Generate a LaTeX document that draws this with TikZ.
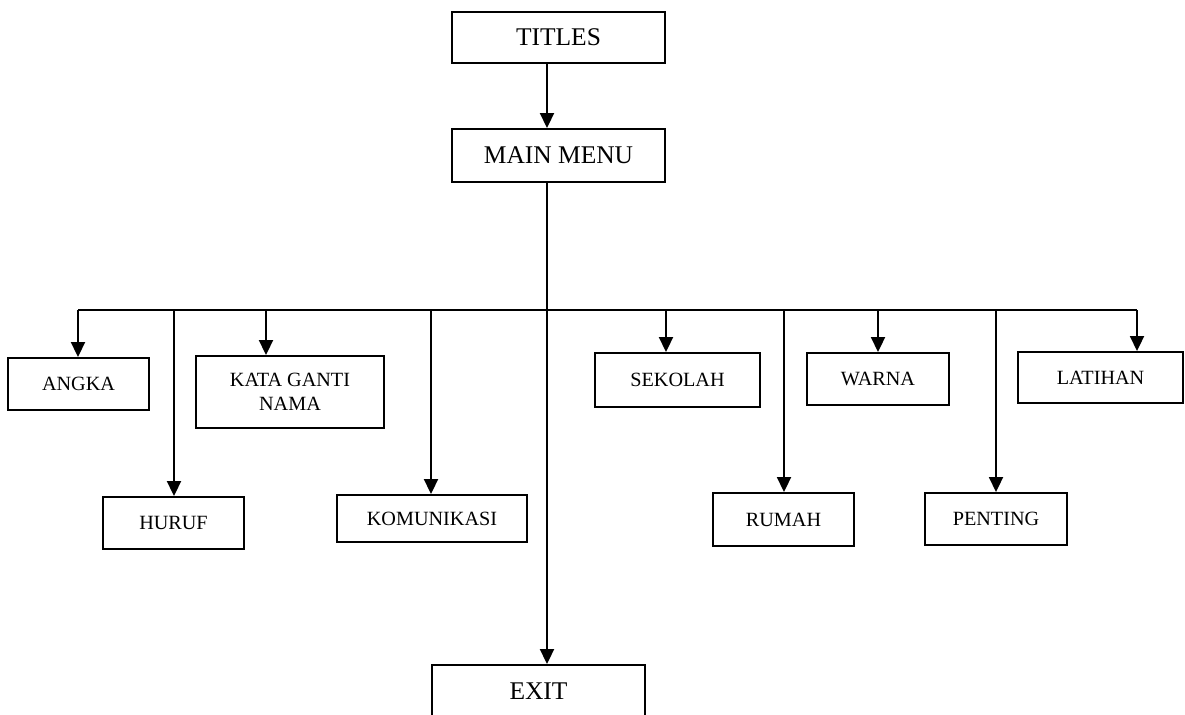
\documentclass[tikz,border=0pt]{standalone}
\usepackage{fontspec}
\setmainfont{Liberation Serif}
\usetikzlibrary{arrows.meta}
\begin{document}
\begin{tikzpicture}[x=0.02cm,y=-0.02cm,
  box/.style={draw,line width=1.1pt,inner sep=0pt,align=center},
  bigbox/.style={box,font=\fontsize{14.5}{17}\selectfont},
  smallbox/.style={box,font=\fontsize{11.5}{14}\selectfont},
  conn/.style={line width=1.1pt},
  arr/.style={conn,-{Triangle[length=0.3cm,width=0.28cm]}}]
\useasboundingbox (0,0) rectangle (1185,714);
% nodes
\node[bigbox,minimum width=4.26cm,minimum height=1.02cm] (titles) at (558.5,37.5) {TITLES};
\node[bigbox,minimum width=4.26cm,minimum height=1.06cm] (main) at (558.5,155.5) {MAIN MENU};
\node[bigbox,minimum width=4.26cm,minimum height=1.04cm] (exit) at (538.5,691) {EXIT};
\node[smallbox,minimum width=2.82cm,minimum height=1.04cm] (angka) at (78.5,384) {ANGKA};
\node[smallbox,minimum width=2.82cm,minimum height=1.04cm] (huruf) at (173.5,523) {HURUF};
\node[smallbox,minimum width=3.76cm,minimum height=1.44cm] (kata) at (290,392) {KATA GANTI\\NAMA};
\node[smallbox,minimum width=3.80cm,minimum height=0.94cm] (komunikasi) at (432,518.5) {KOMUNIKASI};
\node[smallbox,minimum width=3.30cm,minimum height=1.08cm] (sekolah) at (677.5,380) {SEKOLAH};
\node[smallbox,minimum width=2.82cm,minimum height=1.06cm] (rumah) at (783.5,519.5) {RUMAH};
\node[smallbox,minimum width=2.84cm,minimum height=1.04cm] (warna) at (878,379) {WARNA};
\node[smallbox,minimum width=2.84cm,minimum height=1.04cm] (penting) at (996,519) {PENTING};
\node[smallbox,minimum width=3.30cm,minimum height=1.02cm] (latihan) at (1100.5,377.5) {LATIHAN};
% bus coordinates
\coordinate (tx) at (547,310);
\coordinate (b1) at (78,310);
\coordinate (b2) at (174,310);
\coordinate (b3) at (266,310);
\coordinate (b4) at (431,310);
\coordinate (b5) at (666,310);
\coordinate (b6) at (784,310);
\coordinate (b7) at (878,310);
\coordinate (b8) at (996,310);
\coordinate (b9) at (1137,310);
% connectors
\draw[arr] (titles.south -| tx) -- (main.north -| tx);
\draw[arr] (main.south -| tx) -- (exit.north -| tx);
\draw[conn] (b1) -- (b9);
\draw[arr] (b1) -- (b1 |- angka.north);
\draw[arr] (b2) -- (b2 |- huruf.north);
\draw[arr] (b3) -- (b3 |- kata.north);
\draw[arr] (b4) -- (b4 |- komunikasi.north);
\draw[arr] (b5) -- (b5 |- sekolah.north);
\draw[arr] (b6) -- (b6 |- rumah.north);
\draw[arr] (b7) -- (b7 |- warna.north);
\draw[arr] (b8) -- (b8 |- penting.north);
\draw[arr] (b9) -- (b9 |- latihan.north);
\end{tikzpicture}
\end{document}
